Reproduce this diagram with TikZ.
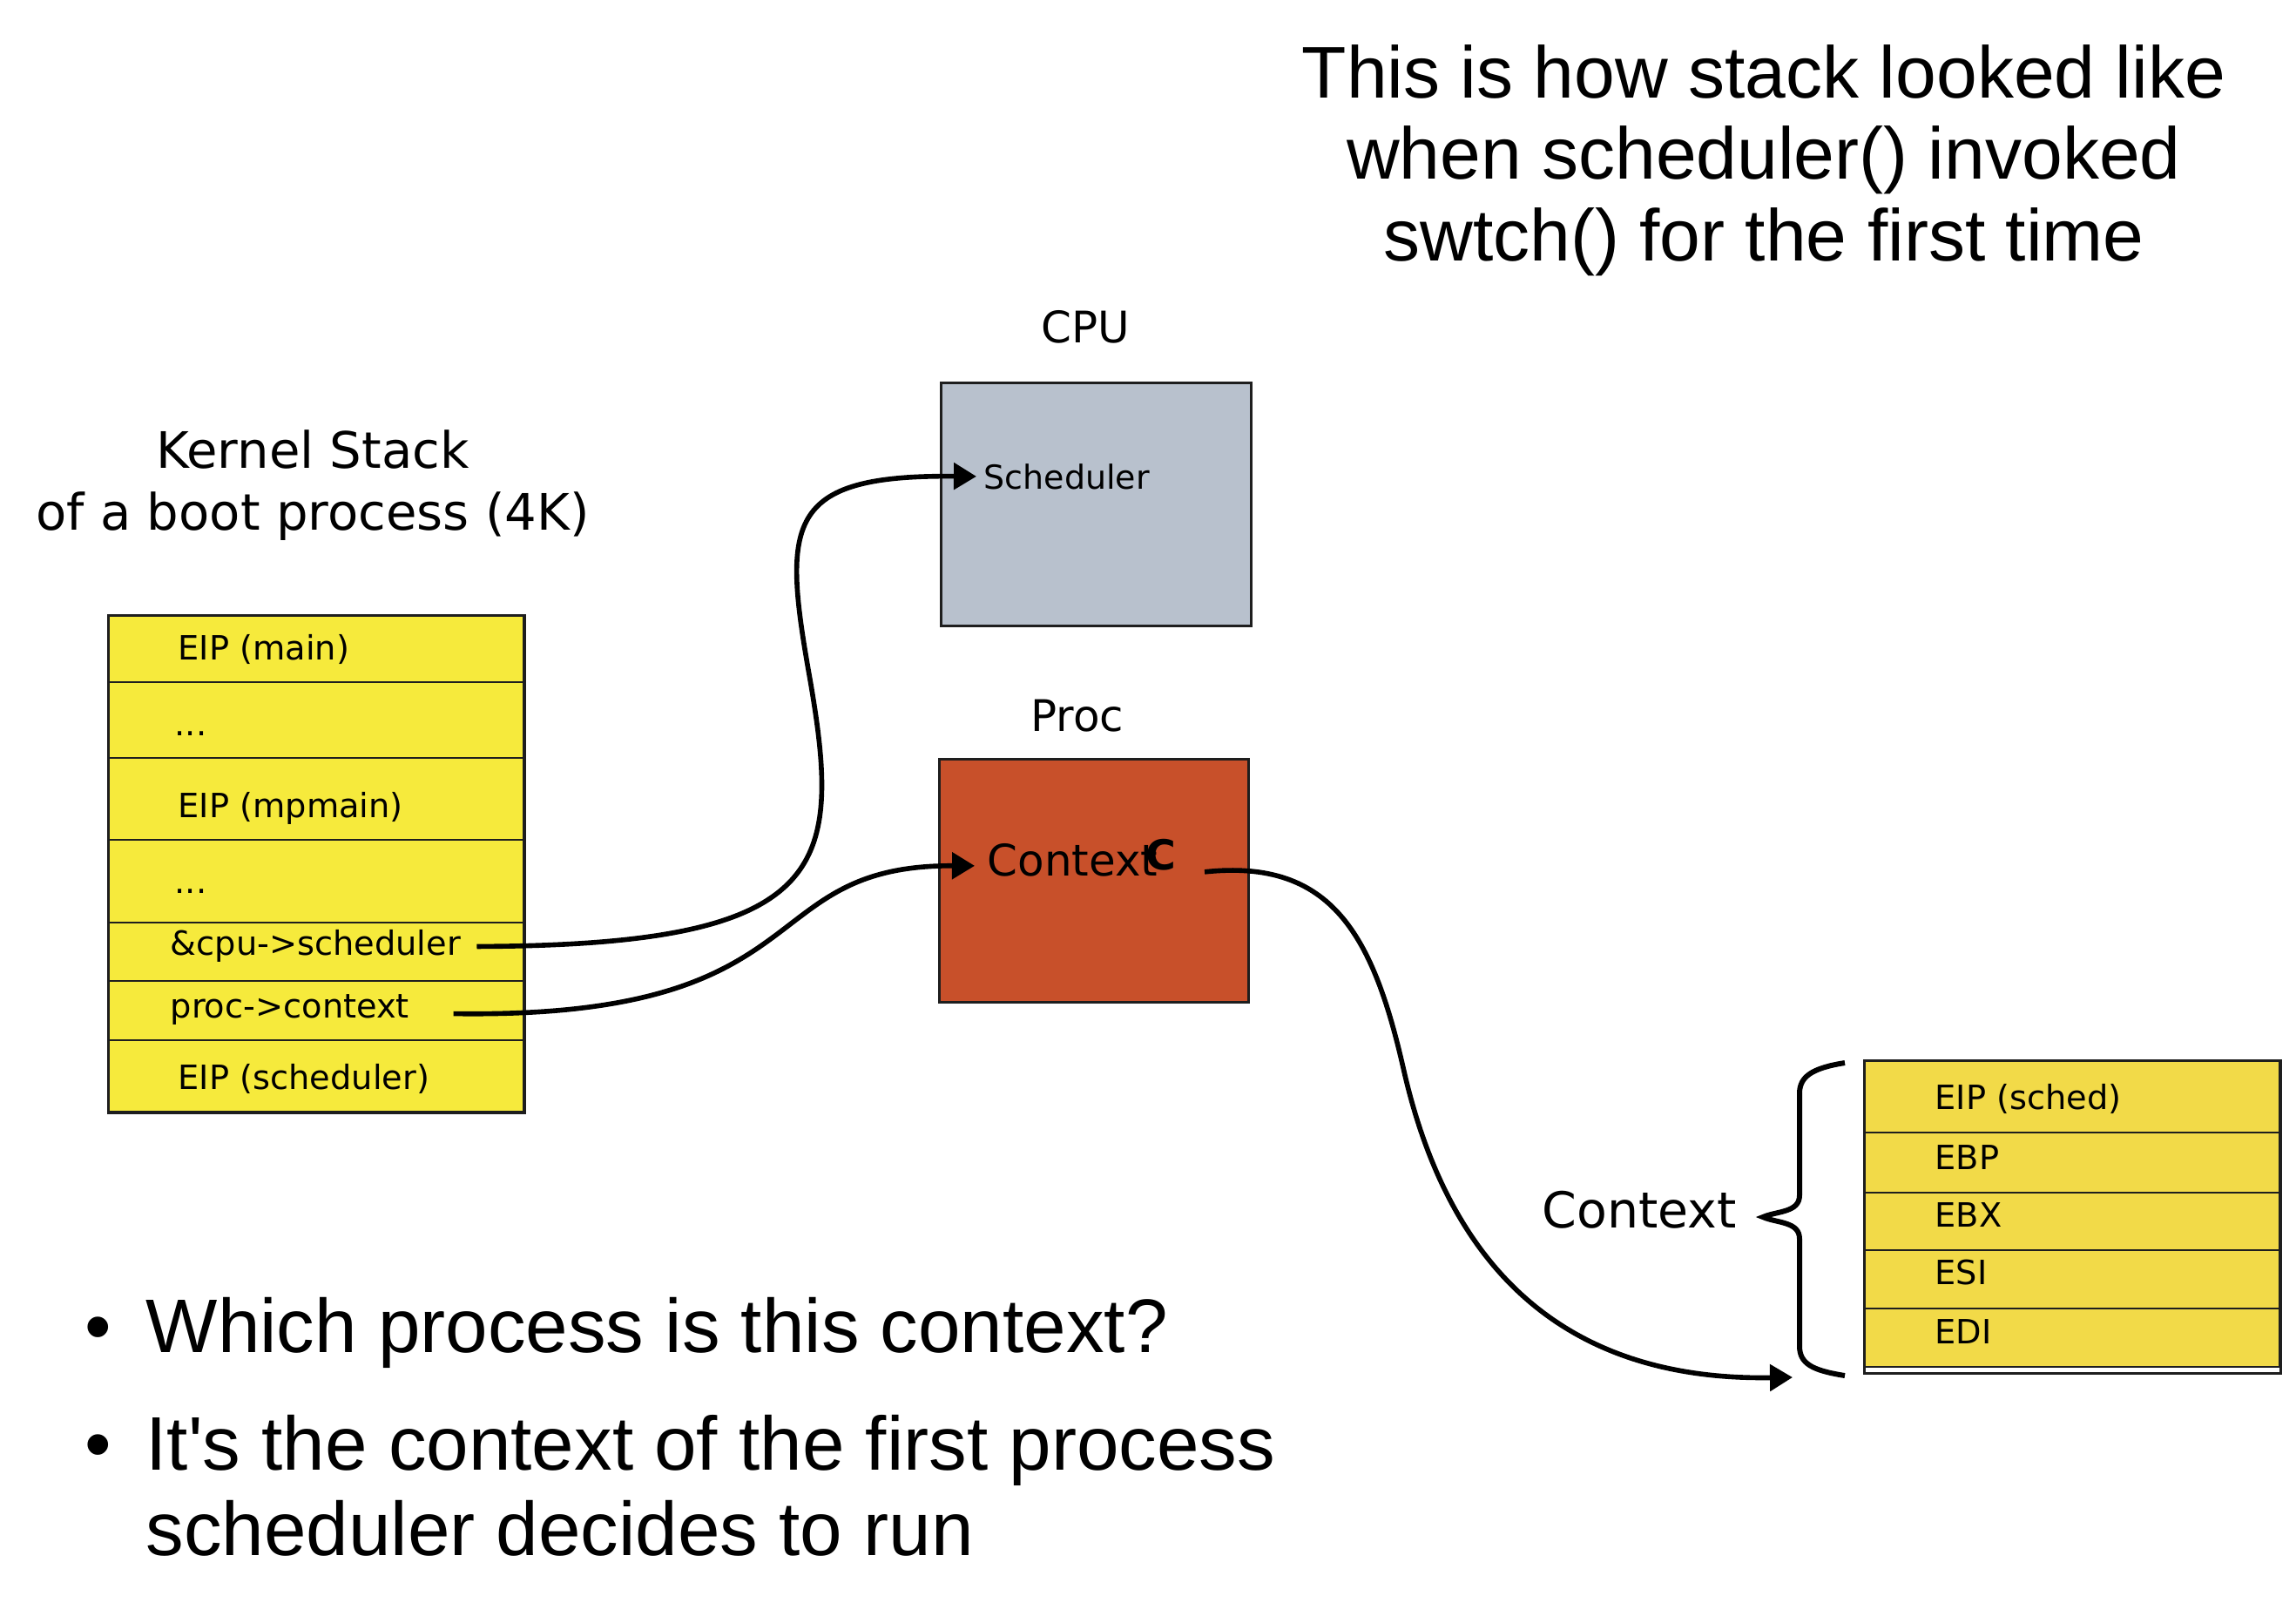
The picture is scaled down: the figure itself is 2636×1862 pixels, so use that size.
\documentclass[tikz,border=0pt]{standalone}
\usepackage{fontspec}
\setmainfont{DejaVu Sans}
\newfontfamily\slidefont{Liberation Sans}
\usepackage{xcolor}
\usetikzlibrary{arrows.meta}
\usetikzlibrary{calc}

\definecolor{stackyellow}{HTML}{F6EA3C}
\definecolor{ctxyellow}{HTML}{F2DA48}
\definecolor{cpugray}{HTML}{B8C1CD}
\definecolor{procred}{HTML}{C8502A}
\definecolor{edge}{HTML}{1E1E1E}

\tikzset{
  kslot/.style={draw=edge, line width=0.55pt, fill=stackyellow, minimum width=4.76cm, inner sep=0pt, anchor=north west},
  cslot/.style={draw=edge, line width=0.55pt, fill=ctxyellow, minimum width=4.76cm, inner sep=0pt, anchor=north west},
  outer/.style={draw=edge, line width=0.85pt},
  entry/.style={anchor=base west, inner sep=0pt, font=\fontsize{10.9}{13}\selectfont},
  heading/.style={anchor=base, inner sep=0pt, font=\fontsize{14.2}{17}\selectfont},
  caption/.style={anchor=base, inner sep=0pt, font=\fontsize{16.4}{19}\selectfont},
  titleline/.style={anchor=base, inner sep=0pt, font=\slidefont\fontsize{23.9}{28}\selectfont},
  pointline/.style={anchor=base west, inner sep=0pt, font=\slidefont\fontsize{24.8}{29}\selectfont},
  dot/.style={anchor=base, inner sep=0pt, font=\slidefont\fontsize{24.8}{29}\selectfont},
  link/.style={line width=1.6pt, -{Triangle[length=0.26cm,width=0.30cm]}},
}

\begin{document}
\begin{tikzpicture}[x=0.01cm,y=-0.01cm]
\useasboundingbox (0,0) rectangle (2636,1862);

% title
\node[titleline] (t1) at (2025,112) {This is how stack looked like};
\node[titleline] (t2) at (2025,205) {when scheduler() invoked};
\node[titleline] (t3) at (2025,299) {swtch() for the first time};

% kernel stack
\node[caption] (kl1) at (359,537) {Kernel Stack};
\node[caption] (kl2) at (359,608) {of a boot process (4K)};
\foreach \n/\t/\h in {1/706/0.76, 2/782/0.87, 3/869/0.94, 4/963/0.95, 5/1058/0.67, 6/1125/0.68, 7/1193/0.82}
  \node[kslot, minimum height=\h cm] (k\n) at (124,\t) {};
\draw[outer] (k1.north west) rectangle (k7.south east);
\node[entry] (e1) at (204,757) {EIP (main)};
\node[entry] (e2) at (200,844) {...};
\node[entry] (e3) at (204,938) {EIP (mpmain)};
\node[entry] (e4) at (200,1025) {...};
\node[entry] (cpusched) at (195,1096) {\&cpu->scheduler};
\node[entry] (procctx) at (195,1168) {proc->context};
\node[entry] (e7) at (204,1250) {EIP (scheduler)};

% cpu and proc
\node[heading] (cpulbl) at (1246,393) {CPU};
\node[outer, fill=cpugray, anchor=north west, minimum width=3.56cm, minimum height=2.79cm] (cpu) at (1079,438) {};
\node[anchor=base west, inner sep=0pt, font=\fontsize{10.8}{13}\selectfont] (sched) at (1129,561) {Scheduler};
\node[heading] (proclbl) at (1237,839) {Proc};
\node[outer, fill=procred, anchor=north west, minimum width=3.55cm, minimum height=2.79cm] (proc) at (1077,870) {};
\node[anchor=base west, inner sep=0pt, font=\fontsize{14.2}{17}\selectfont] (pctx) at (1133,1005) {Context};
\node[anchor=base west, inner sep=0pt, font=\bfseries\fontsize{13.5}{16}\selectfont] (pctxc) at (1315,998) {C};

% saved context
\foreach \n/\t/\h in {1/1217/0.82, 2/1299/0.69, 3/1368/0.66, 4/1434/0.67, 5/1501/0.67}
  \node[cslot, minimum height=\h cm] (c\n) at (2140,\t) {};
\draw[outer] (c1.north west) rectangle ($(c5.south east)+(0,6)$);
\node[entry] (r1) at (2221,1273) {EIP (sched)};
\node[entry] (r2) at (2221,1342) {EBP};
\node[entry] (r3) at (2221,1408) {EBX};
\node[entry] (r4) at (2221,1474) {ESI};
\node[entry] (r5) at (2221,1542) {EDI};
\node[anchor=base west, inner sep=0pt, font=\fontsize{16.2}{19}\selectfont] (ctxlbl) at (1770,1409) {Context};
\draw[line width=1.7pt] (2118,1220) .. controls (2080,1226) and (2066,1236) .. (2066,1255) -- (2066,1372)
  .. controls (2066,1392) and (2040,1390) .. (2024,1397) .. controls (2040,1404) and (2066,1402) .. (2066,1422)
  -- (2066,1545) .. controls (2066,1565) and (2080,1573) .. (2118,1579);
\coordinate (braceend) at (2058,1581);

% pointers
\draw[link] ($(cpusched.east)+(18,1)$) .. controls (950,1085) and (968,1000) .. (930,780)
  .. controls (898,600) and (900,545) .. ($(sched.west)+(-8,0)$);
\draw[link] ($(procctx.east)+(50,5)$) .. controls (950,1170) and (860,993) .. ($(pctx.west)+(-14,7)$);
\draw[link] ($(pctx.east)+(53,14)$) .. controls (1530,985) and (1577,1075) .. (1612,1230)
  .. controls (1665,1460) and (1800,1585) .. (braceend);

% bullets
\node[dot] (b1) at (113,1552) {\textbullet};
\node[pointline] (p1) at (167,1552) {Which process is this context?};
\node[dot] (b2) at (113,1687) {\textbullet};
\node[pointline] (p2) at (167,1687) {It\textquotesingle s the context of the first process};
\node[pointline] (p3) at (167,1785) {scheduler decides to run};
\end{tikzpicture}
\end{document}
